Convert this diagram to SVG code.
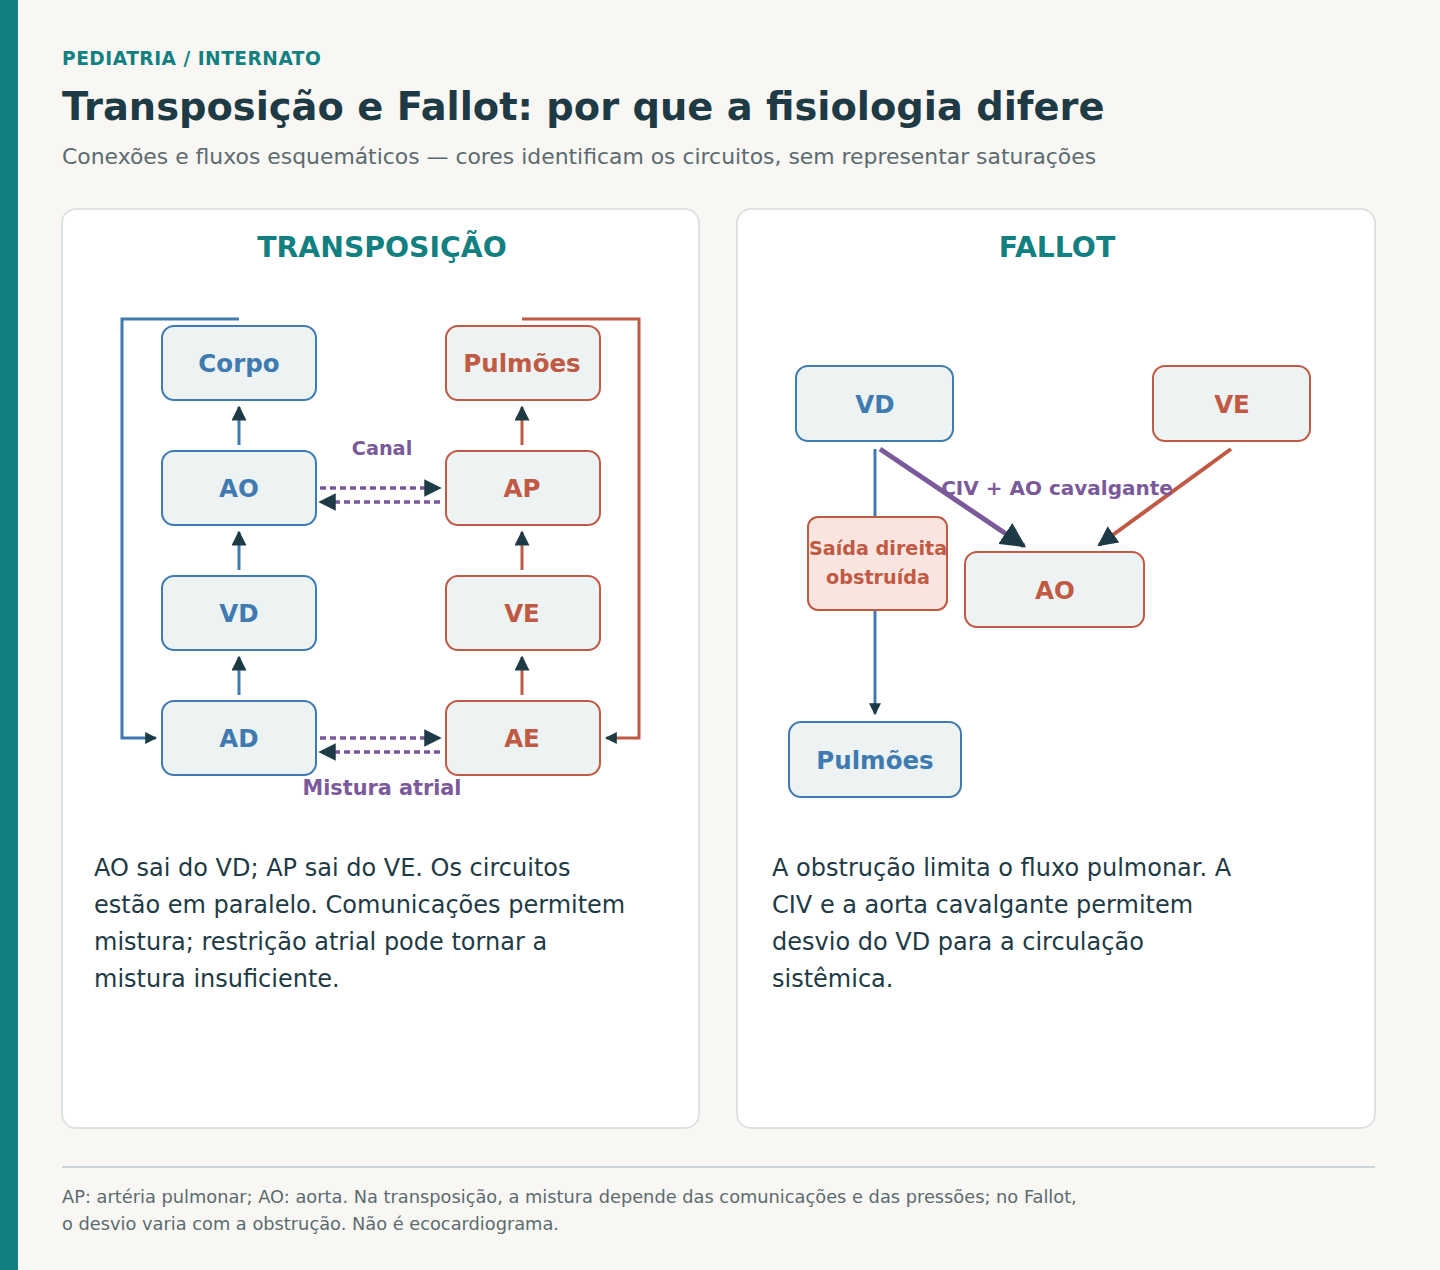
<svg xmlns="http://www.w3.org/2000/svg" width="1440" height="1270" viewBox="0 0 1440 1270">
<style>
text{font-family:"DejaVu Sans",sans-serif}
.panel{fill:#fff;stroke:#dde3e2;stroke-width:2}
.nb{fill:#edf2f2;stroke:#3f7bb0;stroke-width:2}
.nr{fill:#edf2f2;stroke:#c05a45;stroke-width:2}
.tb{fill:#3f7bb0;font-weight:bold;font-size:24.5px;text-anchor:middle}
.tr{fill:#c05a45;font-weight:bold;font-size:24.5px;text-anchor:middle}
.lb{stroke:#3f7bb0;stroke-width:3;fill:none}
.lr{stroke:#c05a45;stroke-width:3;fill:none}
.lp{stroke:#7a5a9a;stroke-width:3.5;fill:none;stroke-dasharray:6 4}
.body{fill:#1e3a45;font-size:24px}
</style>
<defs>
<marker id="ah" viewBox="0 0 10 10" refX="9" refY="5" markerWidth="5" markerHeight="5" orient="auto" markerUnits="strokeWidth"><path d="M0,0L10,5L0,10z" fill="#1e3a45"/></marker>
<marker id="as" viewBox="0 0 10 10" refX="9" refY="5" markerWidth="4" markerHeight="4" orient="auto" markerUnits="strokeWidth"><path d="M0,0L10,5L0,10z" fill="#1e3a45"/></marker>
</defs>
<rect width="1440" height="1270" fill="#f8f7f3"/>
<rect width="18" height="1270" fill="#128080"/>
<text x="62" y="65" font-size="18.6" font-weight="bold" fill="#128080" letter-spacing="0.5">PEDIATRIA / INTERNATO</text>
<text x="62" y="120" font-size="38.4" font-weight="bold" fill="#1e3a45">Transposição e Fallot: por que a fisiologia difere</text>
<text x="62" y="164" font-size="21.9" fill="#5b6b70">Conexões e fluxos esquemáticos — cores identificam os circuitos, sem representar saturações</text>
<rect class="panel" x="62" y="209" width="637" height="919" rx="14"/>
<rect class="panel" x="737" y="209" width="638" height="919" rx="14"/>
<text x="382" y="257" font-size="28.3" font-weight="bold" fill="#128080" text-anchor="middle">TRANSPOSIÇÃO</text>
<text x="1057" y="257" font-size="28.3" font-weight="bold" fill="#128080" text-anchor="middle">FALLOT</text>
<g id="connectors">
<polyline class="lb" points="239,319 122,319 122,738 156,738" marker-end="url(#as)"/>
<polyline class="lr" points="522,319 639,319 639,738 606,738" marker-end="url(#as)"/>
<line class="lb" x1="239" y1="445" x2="239" y2="407" marker-end="url(#ah)"/>
<line class="lb" x1="239" y1="570" x2="239" y2="532" marker-end="url(#ah)"/>
<line class="lb" x1="239" y1="695" x2="239" y2="657" marker-end="url(#ah)"/>
<line class="lr" x1="522" y1="445" x2="522" y2="407" marker-end="url(#ah)"/>
<line class="lr" x1="522" y1="570" x2="522" y2="532" marker-end="url(#ah)"/>
<line class="lr" x1="522" y1="695" x2="522" y2="657" marker-end="url(#ah)"/>
<line class="lp" x1="320" y1="488" x2="440" y2="488" marker-end="url(#ah)"/>
<line class="lp" x1="440" y1="502" x2="320" y2="502" marker-end="url(#ah)"/>
<line class="lp" x1="320" y1="738" x2="440" y2="738" marker-end="url(#ah)"/>
<line class="lp" x1="440" y1="752" x2="320" y2="752" marker-end="url(#ah)"/>
<text x="382" y="455" font-size="19.3" font-weight="bold" fill="#7a5a9a" text-anchor="middle">Canal</text>
<text x="382" y="795" font-size="20.8" font-weight="bold" fill="#7a5a9a" text-anchor="middle">Mistura atrial</text>
<line class="lb" x1="875" y1="449" x2="875" y2="517"/>
<line class="lb" x1="875" y1="610" x2="875" y2="714" marker-end="url(#as)" stroke-width="2.5"/>
<line x1="880" y1="449" x2="1024" y2="546" stroke="#7a5a9a" stroke-width="5" marker-end="url(#ah)"/>
<line x1="1231" y1="449" x2="1099" y2="545" stroke="#c05a45" stroke-width="4" marker-end="url(#ah)"/>
<text x="1057" y="495" font-size="20" font-weight="bold" fill="#7a5a9a" text-anchor="middle">CIV + AO cavalgante</text>
</g>
<g id="corpo"><rect class="nb" x="162" y="326" width="154" height="74" rx="12"/><text class="tb" x="239" y="372">Corpo</text></g>
<g id="ao"><rect class="nb" x="162" y="451" width="154" height="74" rx="12"/><text class="tb" x="239" y="497">AO</text></g>
<g id="vd"><rect class="nb" x="162" y="576" width="154" height="74" rx="12"/><text class="tb" x="239" y="622">VD</text></g>
<g id="ad"><rect class="nb" x="162" y="701" width="154" height="74" rx="12"/><text class="tb" x="239" y="747">AD</text></g>
<g id="pulm"><rect class="nr" x="446" y="326" width="154" height="74" rx="12"/><text class="tr" x="522" y="372">Pulmões</text></g>
<g id="ap"><rect class="nr" x="446" y="451" width="154" height="74" rx="12"/><text class="tr" x="522" y="497">AP</text></g>
<g id="ve"><rect class="nr" x="446" y="576" width="154" height="74" rx="12"/><text class="tr" x="522" y="622">VE</text></g>
<g id="ae"><rect class="nr" x="446" y="701" width="154" height="74" rx="12"/><text class="tr" x="522" y="747">AE</text></g>
<g id="f-vd"><rect class="nb" x="796" y="366" width="157" height="75" rx="12"/><text class="tb" x="875" y="413">VD</text></g>
<g id="f-ve"><rect class="nr" x="1153" y="366" width="157" height="75" rx="12"/><text class="tr" x="1232" y="413">VE</text></g>
<g id="f-ao"><rect class="nr" x="965" y="552" width="179" height="75" rx="12"/><text class="tr" x="1055" y="599">AO</text></g>
<g id="f-saida"><rect x="808" y="517" width="139" height="93" rx="10" fill="#f8e5df" stroke="#c05a45" stroke-width="2"/><text x="878" y="555" font-size="19.2" font-weight="bold" fill="#c05a45" text-anchor="middle">Saída direita</text><text x="878" y="584" font-size="19.2" font-weight="bold" fill="#c05a45" text-anchor="middle">obstruída</text></g>
<g id="f-pulm"><rect class="nb" x="789" y="722" width="172" height="75" rx="12"/><text class="tb" x="875" y="769">Pulmões</text></g>
<text class="body" x="94" y="876">AO sai do VD; AP sai do VE. Os circuitos</text>
<text class="body" x="94" y="913">estão em paralelo. Comunicações permitem</text>
<text class="body" x="94" y="950">mistura; restrição atrial pode tornar a</text>
<text class="body" x="94" y="987">mistura insuficiente.</text>
<text class="body" x="772" y="876">A obstrução limita o fluxo pulmonar. A</text>
<text class="body" x="772" y="913">CIV e a aorta cavalgante permitem</text>
<text class="body" x="772" y="950">desvio do VD para a circulação</text>
<text class="body" x="772" y="987">sistêmica.</text>
<line x1="62" y1="1167" x2="1375" y2="1167" stroke="#cdd6d6" stroke-width="2"/>
<text x="62" y="1203" font-size="17.8" fill="#5b6b70">AP: artéria pulmonar; AO: aorta. Na transposição, a mistura depende das comunicações e das pressões; no Fallot,</text>
<text x="62" y="1230" font-size="17.8" fill="#5b6b70">o desvio varia com a obstrução. Não é ecocardiograma.</text>
</svg>
